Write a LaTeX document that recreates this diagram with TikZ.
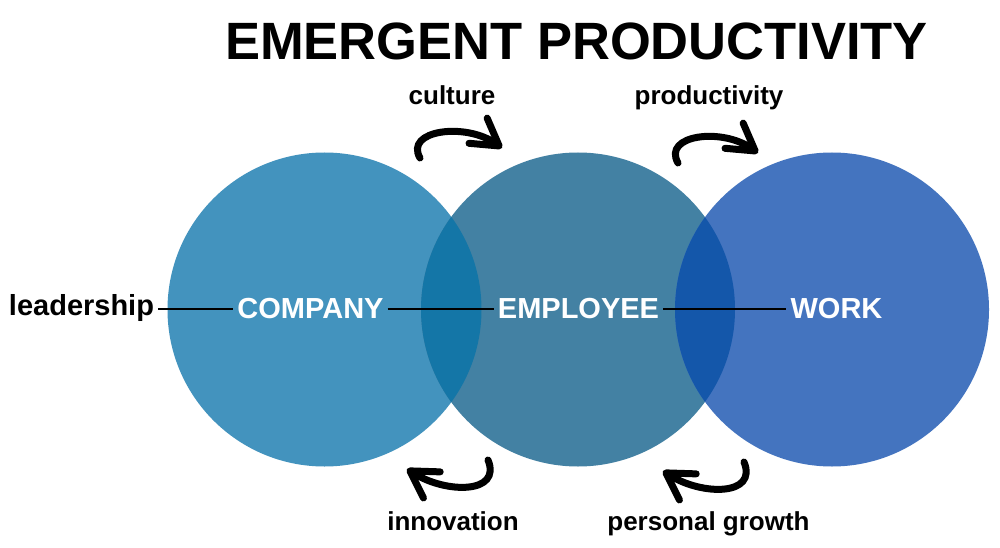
\documentclass[tikz,border=0pt]{standalone}
\usepackage{fontspec}
\setmainfont{Liberation Sans}
\usetikzlibrary{arrows.meta}
\definecolor{cLeft}{HTML}{4393BE}
\definecolor{cMid}{HTML}{4381A3}
\definecolor{cRight}{HTML}{4474BF}
\definecolor{cLM}{HTML}{1476A7}
\definecolor{cMR}{HTML}{1457AA}
\begin{document}
\begin{tikzpicture}[x=1pt,y=-1pt,
  ring/.style={circle,minimum size=314pt,inner sep=0pt,draw=none},
  caplabel/.style={text=white,font=\fontsize{29}{32}\selectfont\bfseries,text height=20pt,text depth=2pt,inner xsep=4pt,inner ysep=0pt},
  sidelabel/.style={text=black,font=\fontsize{29}{32}\selectfont\bfseries,text height=20pt,text depth=7pt,inner xsep=4pt,inner ysep=0pt},
  flowlabel/.style={text=black,font=\fontsize{26}{30}\selectfont\bfseries,anchor=base,inner sep=0pt},
  joinline/.style={draw=black,line width=1.6pt},
  curl/.style={draw=black,line width=7pt,line cap=round,-{Straight Barb[length=26pt,width=31pt,round]}}
]
\useasboundingbox (0,0) rectangle (1000,548);
\fill[white] (0,0) rectangle (1000,548);

% title
\node[anchor=base,inner sep=0pt,font=\fontsize{52.5}{60}\selectfont\bfseries] (title) at (576.5,60) {EMERGENT PRODUCTIVITY};

% circles
\node[ring,fill=cLeft] (cCompany) at (324.5,309.5) {};
\node[ring,fill=cMid] (cEmployee) at (578,309.5) {};
\node[ring,fill=cRight] (cWork) at (832,309.5) {};
\begin{scope}
  \clip (324.5,309.5) circle[radius=157];
  \fill[cLM] (578,309.5) circle[radius=157];
\end{scope}
\begin{scope}
  \clip (578,309.5) circle[radius=157];
  \fill[cMR] (832,309.5) circle[radius=157];
\end{scope}

% labels
\node[sidelabel] (leadership) at (81.5,309) {leadership};
\node[caplabel] (company) at (310.5,309) {COMPANY};
\node[caplabel] (employee) at (578.5,309) {EMPLOYEE};
\node[caplabel] (work) at (836.5,309) {WORK};
\draw[joinline] (leadership.east) -- (company.west);
\draw[joinline] (company.east) -- (employee.west);
\draw[joinline] (employee.east) -- (work.west);

% flow labels
\node[flowlabel] (culture) at (452,105) {culture};
\node[flowlabel] (productivity) at (709,105) {productivity};
\node[flowlabel] (innovation) at (453,530) {innovation};
\node[flowlabel] (growth) at (708.5,530) {personal growth};

% curved arrows
\coordinate (cA) at (420,158);
\coordinate (cB) at (502,148);
\draw[curl] (cA) .. controls (404,130) and (466,122) .. (cB);
\coordinate (pA) at (678,163);
\coordinate (pB) at (758,153);
\draw[curl] (pA) .. controls (662,135) and (722,127) .. (pB);
\coordinate (iA) at (488,460);
\coordinate (iB) at (407,469);
\draw[curl] (iA) .. controls (502,494) and (446,494) .. (iB);
\coordinate (gA) at (744,462);
\coordinate (gB) at (663,471);
\draw[curl] (gA) .. controls (758,496) and (702,496) .. (gB);
\end{tikzpicture}
\end{document}
